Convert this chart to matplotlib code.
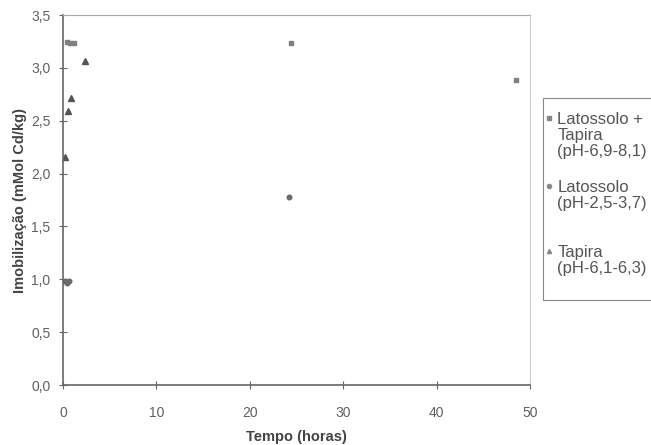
import matplotlib.pyplot as plt
from matplotlib.lines import Line2D
from matplotlib.patches import Rectangle
from matplotlib.ticker import FuncFormatter

plt.rcParams['font.family'] = ['Liberation Sans', 'DejaVu Sans']

# Latossolo + Tapira (pH-6,9-8,1)
t_lt = [0.4, 0.8, 1.2, 24.4, 48.5]
y_lt = [3.25, 3.24, 3.24, 3.24, 2.89]
# Latossolo (pH-2,5-3,7)
t_l = [0.2, 0.4, 0.6, 24.2]
y_l = [0.98, 0.97, 0.98, 1.78]
# Tapira (pH-6,1-6,3)
t_t = [0.25, 0.5, 0.85, 2.35]
y_t = [2.16, 2.59, 2.72, 3.07]

labels = ["Latossolo +\nTapira\n(pH-6,9-8,1)", "Latossolo\n(pH-2,5-3,7)", "Tapira\n(pH-6,1-6,3)"]
markers = ["s", "o", "^"]

fig = plt.figure(figsize=(6.51, 4.45), dpi=100)
ax = fig.add_axes([0.0968, 0.1348, 0.7174, 0.8312])

ax.plot(t_lt, y_lt, ls="none", marker="s", ms=3.2, color="#808080", mec="#808080")
ax.plot(t_l, y_l, ls="none", marker="o", ms=3.3, color="#6a6a6a", mec="#6a6a6a")
ax.plot(t_t, y_t, ls="none", marker="^", ms=4, color="#555555", mec="#555555")

ax.set_xlim(0, 50)
ax.set_ylim(0, 3.5)
ax.set_xticks(range(0, 51, 10))
ax.set_yticks([0, 0.5, 1, 1.5, 2, 2.5, 3, 3.5])
ax.yaxis.set_major_formatter(FuncFormatter(lambda v, p: f"{v:.1f}".replace(".", ",")))
ax.tick_params(direction="inout", length=6, width=0.8, color="#666666",
               labelcolor="#606060", labelsize=10, pad=6)
ax.tick_params(axis="x", pad=12)

for s in ["left", "bottom"]:
    ax.spines[s].set_color("#666666")
    ax.spines[s].set_linewidth(1.2)
ax.spines["top"].set_color("#aaaaaa")
ax.spines["top"].set_linestyle((0, (1, 1)))
ax.spines["top"].set_linewidth(0.8)
ax.spines["right"].set_color("#cccccc")
ax.spines["right"].set_linewidth(0.8)

ax.set_xlabel("Tempo (horas)", fontsize=10.5, fontweight="bold", color="#444444", labelpad=7)
ax.set_ylabel("Imobilização (mMol Cd/kg)", fontsize=10.5, fontweight="bold", color="#444444", labelpad=3)

# legend box drawn by hand to keep the uneven spacing of the original
fig.add_artist(Rectangle((0.834, 0.326), 0.2, 0.454, transform=fig.transFigure,
                         fill=False, ec="#888888", lw=0.8))
label_tops = [0.748, 0.595, 0.449]
for lab, m, yy in zip(labels, markers, label_tops):
    fig.add_artist(Line2D([0.843], [yy - 0.013], transform=fig.transFigure, marker=m,
                          ms=3, color="#888888", ls="none"))
    fig.text(0.856, yy, lab, fontsize=12, color="#555555", va="top",
             linespacing=1.08, transform=fig.transFigure)
fig.savefig("out.png", dpi=100)
